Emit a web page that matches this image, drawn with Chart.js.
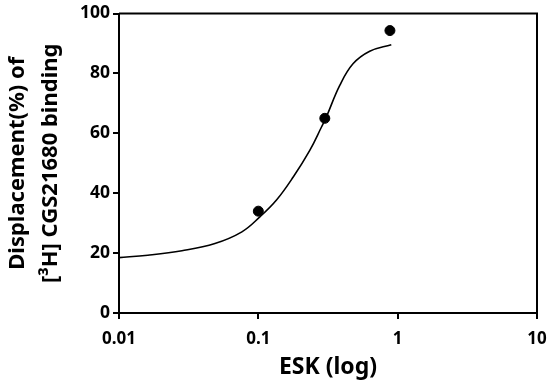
<!DOCTYPE html>
<html>
<head>
<meta charset="utf-8">
<script src="https://cdn.jsdelivr.net/npm/chart.js@4"></script>
<style>
  html, body { margin: 0; padding: 0; background: #fff; }
  #wrap { width: 550px; height: 384px; }
</style>
</head>
<body>
<div id="wrap"><canvas id="chart" width="550" height="384"></canvas></div>
<script>
// measured points
const eskConc = [0.1, 0.3, 0.88]
const displacement = [34, 65, 94.3]

// fitted curve
const fitConc = [0.01, 0.0161, 0.0283, 0.0488, 0.0762, 0.1026, 0.135, 0.178, 0.234, 0.284, 0.308, 0.384, 0.478, 0.63, 0.9]
const fitValues = [18.5, 19.3, 20.8, 23.2, 27.1, 32.1, 37.7, 45.4, 54.3, 62.1, 65.5, 76, 83.2, 87.4, 89.6]

const xTicks = [0.01, 0.1, 1, 10]
const yTicks = [0, 20, 40, 60, 80, 100]

const font = "'Noto Sans', 'DejaVu Sans', sans-serif"

// box outline on top and right of the plot area
const frame = {
  id: 'frame',
  afterDraw(chart) {
    const { ctx, chartArea: a } = chart
    ctx.save()
    ctx.strokeStyle = '#000'
    ctx.lineWidth = 2
    ctx.beginPath()
    ctx.moveTo(a.left, a.top)
    ctx.lineTo(a.right, a.top)
    ctx.lineTo(a.right, a.bottom)
    ctx.stroke()
    ctx.restore()
  }
}

new Chart(document.getElementById('chart'), {
  type: 'scatter',
  data: {
    datasets: [
      {
        type: 'line',
        data: fitConc.map((x, i) => ({ x, y: fitValues[i] })),
        borderColor: '#000',
        borderWidth: 1.6,
        pointRadius: 0,
        tension: 0.4,
        fill: false
      },
      {
        data: eskConc.map((x, i) => ({ x, y: displacement[i] })),
        backgroundColor: '#000',
        borderColor: '#000',
        pointRadius: 5
      }
    ]
  },
  options: {
    responsive: false,
    animation: false,
    layout: { padding: { top: 2, right: 13, left: 0, bottom: 0 } },
    plugins: { legend: { display: false }, tooltip: { enabled: false } },
    scales: {
      x: {
        type: 'logarithmic',
        min: 0.01,
        max: 10,
        afterBuildTicks: s => { s.ticks = xTicks.map(v => ({ value: v })) },
        afterFit: s => {
          s.height = 71
          s.paddingLeft = 0
          s.paddingRight = 0
        },
        ticks: {
          color: '#000',
          font: { family: font, size: 17, weight: 'bold' },
          padding: 10,
          maxRotation: 0,
          callback: v => String(v)
        },
        grid: { drawOnChartArea: false, drawTicks: true, tickLength: 6, color: '#000', lineWidth: 2 },
        border: { color: '#000', width: 2 },
        title: {
          display: true,
          text: 'ESK (log)',
          color: '#000',
          font: { family: font, size: 23, weight: 'bold' },
          padding: { top: 0, bottom: 3 }
        }
      },
      y: {
        min: 0,
        max: 100,
        afterBuildTicks: s => { s.ticks = yTicks.map(v => ({ value: v })) },
        afterFit: s => { s.width = 119 },
        ticks: {
          color: '#000',
          font: { family: font, size: 17.5, weight: 'bold' },
          padding: 3
        },
        grid: { drawOnChartArea: false, drawTicks: true, tickLength: 6, color: '#000', lineWidth: 2 },
        border: { color: '#000', width: 2 },
        title: {
          display: true,
          text: ['Displacement(%) of', '[³H] CGS21680 binding'],
          color: '#000',
          font: { family: font, size: 22, weight: 'bold', lineHeight: 1.5 },
          padding: { top: 1, bottom: 0 }
        }
      }
    }
  },
  plugins: [frame]
})
</script>
</body>
</html>
